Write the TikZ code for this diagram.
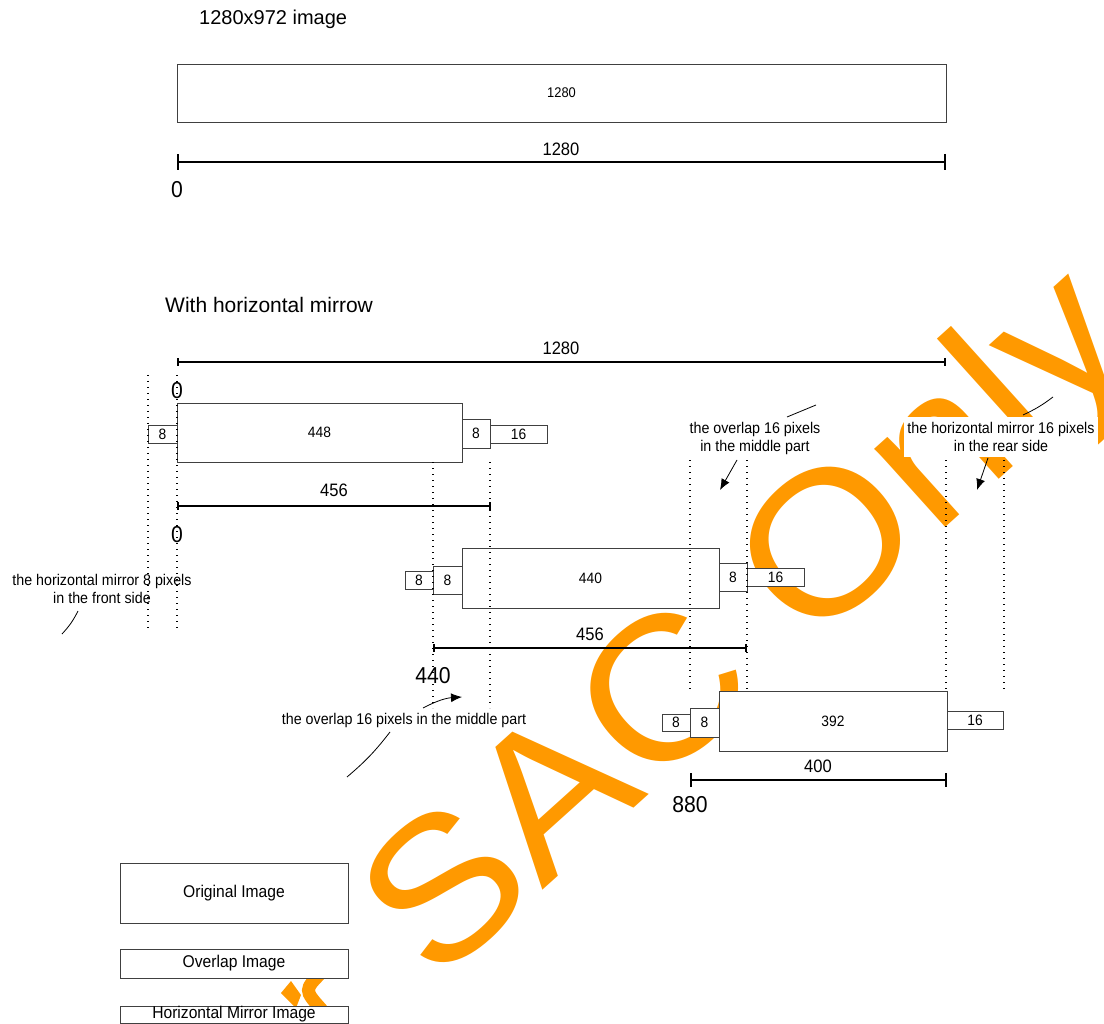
\documentclass[tikz,border=0pt]{standalone}
\usepackage{fontspec}
\setmainfont{Liberation Sans}[FakeStretch=0.92]
\newfontfamily\widefont{Liberation Sans}
\usetikzlibrary{arrows.meta}

\definecolor{markorange}{RGB}{255,153,0}
\newcommand{\pxsize}[1]{\fontsize{#1}{#1}\selectfont}

\begin{document}
\begin{tikzpicture}[x=1pt, y=-1pt,
    pbox/.style={draw=black!75, fill=white, line width=0.9pt, inner sep=0pt,
      outer sep=0pt, anchor=north west, font=\pxsize{15}},
    dimline/.style={line width=2.4pt},
    guide/.style={line width=1.4pt, dash pattern=on 1.4pt off 4.6pt},
    num/.style={font=\pxsize{18}, inner sep=0pt},
    startnum/.style={font=\pxsize{23}, inner sep=0pt},
    callout/.style={align=center, font=\fontsize{15.5}{18}\selectfont, inner sep=0pt},
    leader/.style={line width=0.8pt},
    pointer/.style={line width=0.8pt, -{Latex[length=11pt,width=9pt]}}]

  \useasboundingbox (0,0) rectangle (1104,1024);

  % -- watermark, behind everything --
  \node[font=\widefont\pxsize{200}, text=markorange, rotate=42, xscale=1.08,
    anchor=base west, inner sep=0pt] (mark) at (435,987) {SAC Only};
  % stray piece of the watermark under the legend
  \fill[markorange] (281,993) -- (291,981) -- (301,995) -- (296,1008) -- cycle;
  \draw[markorange, line width=13pt] (322,972) .. controls (304,990) .. (322,1010);

  % -- plain image --
  \node[font=\widefont\pxsize{20}, anchor=west, inner sep=0pt] (title1) at (199,19) {1280x972 image};
  \node[pbox, minimum width=769pt, minimum height=58pt, font=\pxsize{14}] (full) at (177,64) {1280};
  \coordinate (d0a) at (177,162);
  \coordinate (d0b) at (946,162);
  \draw[dimline, {Bar[width=16pt]}-{Bar[width=16pt]}] (d0a) -- (d0b);
  \node[num] (d0lbl) at (561,149) {1280};
  \node[startnum] (zero0) at (177,190) {0};

  % -- mirrored split --
  \node[font=\widefont\pxsize{21}, anchor=west, inner sep=0pt] (title2) at (165,305) {With horizontal mirrow};
  \coordinate (d1a) at (177,362);
  \coordinate (d1b) at (946,362);
  \draw[dimline, {Bar[width=8pt]}-{Bar[width=8pt]}] (d1a) -- (d1b);
  \node[num] (d1lbl) at (561,348) {1280};

  % row 1
  \node[pbox, minimum width=285pt, minimum height=59pt] (r1main) at (177,403) {448};
  \node[pbox, minimum width=29pt, minimum height=18pt] (r1mirL) at (148,425) {8};
  \node[pbox, minimum width=28pt, minimum height=29pt] (r1ovR) at (462,419) {8};
  \node[pbox, minimum width=57pt, minimum height=18pt] (r1mirR) at (490,425) {16};

  % row 2
  \node[pbox, minimum width=257pt, minimum height=60pt] (r2main) at (462,548) {440};
  \node[pbox, minimum width=29pt, minimum height=28pt] (r2ovL) at (433,566) {8};
  \node[pbox, minimum width=28pt, minimum height=18pt] (r2mirL) at (405,571) {8};
  \node[pbox, minimum width=28pt, minimum height=28pt] (r2ovR) at (719,563) {8};
  \node[pbox, minimum width=57pt, minimum height=18pt] (r2mirR) at (747,568) {16};

  % row 3
  \node[pbox, minimum width=228pt, minimum height=60pt] (r3main) at (719,691) {392};
  \node[pbox, minimum width=29pt, minimum height=29pt] (r3ovL) at (690,708) {8};
  \node[pbox, minimum width=28pt, minimum height=17pt] (r3mirL) at (662,714) {8};
  \node[pbox, minimum width=56pt, minimum height=18pt] (r3mirR) at (947,711) {16};

  % dotted guides
  \foreach \gx/\gtop/\gbot in {148/375/632, 177/375/632, 433/462/708, 490/462/708,
      690/460/690, 747/460/690, 946/460/690, 1004/460/690}
    \draw[guide] (\gx,\gtop) -- (\gx,\gbot);

  % widths
  \coordinate (d2a) at (177,506);
  \coordinate (d2b) at (491,506);
  \draw[dimline, {Bar[width=8pt]}-{Bar[width=8pt]}] (d2a) -- (d2b);
  \node[num] (d2lbl) at (334,490) {456};
  \coordinate (d3a) at (433,648);
  \coordinate (d3b) at (747,648);
  \draw[dimline, {Bar[width=8pt]}-{Bar[width=8pt]}] (d3a) -- (d3b);
  \node[num] (d3lbl) at (590,634) {456};
  \coordinate (d4a) at (690,780);
  \coordinate (d4b) at (947,780);
  \draw[dimline, {Bar[width=14pt]}-{Bar[width=14pt]}] (d4a) -- (d4b);
  \node[num] (d4lbl) at (818,766) {400};

  % start positions
  \node[startnum] (zero1) at (177,391) {0};
  \node[startnum] (zero2) at (177,535) {0};
  \node[startnum] (start2) at (433,676) {440};
  \node[startnum] (start3) at (690,805) {880};

  % Callouts
  \node[callout] (cFront) at (102,589) {the horizontal mirror 8 pixels\\in the front side};
  \coordinate (f1) at (78,611);
  \coordinate (f2) at (62,634);
  \draw[leader] (f1) to[bend left=8] (f2);

  \node[callout] (cMidLow) at (404,720) {the overlap 16 pixels in the middle part};
  \coordinate (ml1) at (423,708);
  \coordinate (ml2) at (462,697);
  \coordinate (ml3) at (390,732);
  \coordinate (ml4) at (347,777);
  \draw[pointer] (ml1) to[bend left=12] (ml2);
  \draw[leader] (ml3) to[bend left=6] (ml4);

  \node[callout] (cMidUp) at (755,438) {the overlap 16 pixels\\in the middle part};
  \coordinate (mu1) at (787,417);
  \coordinate (mu2) at (816,405);
  \coordinate (mu3) at (737,460);
  \coordinate (mu4) at (720,490);
  \draw[leader] (mu1) -- (mu2);
  \draw[pointer] (mu3) -- (mu4);

  \node[callout, fill=white, inner xsep=3.5pt, inner ysep=5pt] (cRear) at (1001,437)
    {the horizontal mirror 16 pixels\\in the rear side};
  \coordinate (re1) at (1023,415);
  \coordinate (re2) at (1053,397);
  \coordinate (re3) at (988,458);
  \coordinate (re4) at (977,490);
  \draw[leader] (re1) to[bend right=6] (re2);
  \draw[pointer] (re3) -- (re4);

  % -- legend --
  \node[pbox, minimum width=228pt, minimum height=60pt, font=\pxsize{17}] (legOrig) at (120,863) {Original Image};
  \node[pbox, minimum width=228pt, minimum height=29pt, font=\pxsize{17}] (legOver) at (120,949) {Overlap Image};
  \node[pbox, minimum width=228pt, minimum height=17pt, font=\pxsize{17}] (legMir) at (120,1006) {Horizontal Mirror Image};

\end{tikzpicture}
\end{document}
